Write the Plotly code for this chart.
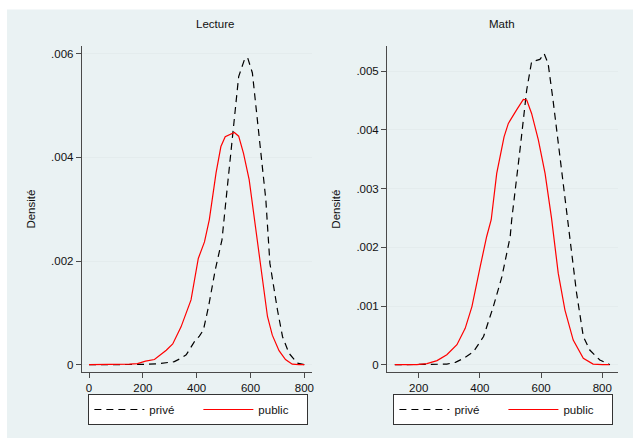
import plotly.graph_objects as go

# ---------------- data ----------------
lect_public_x = [0, 50, 100, 150, 180, 210, 243, 287, 311, 342, 379, 406, 429, 447, 472, 490,
                 506, 540, 556, 574, 595, 614, 638, 663, 681, 706, 730, 755, 780, 800]
lect_public_y = [0, 0, 0.000005, 0.00001, 0.00002, 0.00007, 0.0001, 0.00028, 0.0004, 0.00073,
                 0.00125, 0.00205, 0.00237, 0.0028, 0.0037, 0.00421, 0.0044, 0.00448, 0.00441,
                 0.00408, 0.00357, 0.0028, 0.00183, 0.00093, 0.00057, 0.00027, 0.0001, 0.00001, 0, 0]

lect_prive_x = [0, 100, 200, 262, 290, 317, 340, 361, 391, 410, 425, 444, 469, 494, 509, 533,
                556, 577, 589, 607, 632, 657, 672, 700, 719, 743, 774, 800]
lect_prive_y = [0, 0, 0.000005, 0.00002, 0.00004, 0.00006, 0.00012, 0.00019, 0.00044, 0.00055,
                0.00067, 0.00112, 0.00183, 0.00241, 0.00318, 0.00447, 0.00556, 0.00588, 0.00593,
                0.00563, 0.00447, 0.00318, 0.00196, 0.00106, 0.00054, 0.00022, 0.00003, 0]

math_public_x = [122, 160, 194, 227, 260, 292, 325, 352, 374, 401, 422, 437, 455, 479, 493, 520,
                 542, 553, 569, 591, 613, 634, 656, 678, 705, 738, 770, 800, 823]
math_public_y = [0, 0, 0, 0.00002, 0.00007, 0.00017, 0.00034, 0.00062, 0.00099, 0.00167, 0.00218,
                 0.00247, 0.00326, 0.00388, 0.00411, 0.00434, 0.00452, 0.00451, 0.00428, 0.00383,
                 0.00326, 0.00250, 0.00156, 0.00093, 0.00042, 0.00011, 0.00001, 0, 0]

math_prive_x = [122, 170, 217, 260, 292, 320, 347, 379, 412, 444, 472, 499, 504, 531, 553, 569,
                596, 610, 623, 639, 661, 683, 694, 716, 738, 759, 792, 825]
math_prive_y = [0, 0, 0, 0.000005, 0.00001, 0.00004, 0.00011, 0.00022, 0.00048, 0.00099, 0.0015,
                0.00218, 0.00247, 0.00366, 0.00468, 0.00516, 0.0052, 0.0053, 0.00513, 0.00451,
                0.00354, 0.00258, 0.00212, 0.00122, 0.00048, 0.00025, 0.00008, 0]

lect_xticks = [0, 200, 400, 600, 800]
lect_yticks = [0, 0.002, 0.004, 0.006]
lect_yticklabels = ["0", ".002", ".004", ".006"]
math_xticks = [200, 400, 600, 800]
math_yticks = [0, 0.001, 0.002, 0.003, 0.004, 0.005]
math_yticklabels = ["0", ".001", ".002", ".003", ".004", ".005"]

panel_titles = ["Lecture", "Math"]
ytitle = "Densité"
series_names = ["privé", "public"]

# ---------------- styling ----------------
W, H = 635, 438
BG = "#eaf2f3"
FONT = "Liberation Sans, Arial, Helvetica, sans-serif"
FS = 11.5
TXT = "#111"
AXC = "#4a4a4a"
GRID = "#e4eced"
DASH = "7px,5px"

fig = go.Figure()

fig.add_trace(go.Scatter(x=lect_prive_x, y=lect_prive_y, mode="lines", name=series_names[0],
                         line=dict(color="black", width=1.2, dash=DASH),
                         xaxis="x", yaxis="y", legend="legend"))
fig.add_trace(go.Scatter(x=lect_public_x, y=lect_public_y, mode="lines", name=series_names[1],
                         line=dict(color="#ff0000", width=1.2),
                         xaxis="x", yaxis="y", legend="legend"))
fig.add_trace(go.Scatter(x=math_prive_x, y=math_prive_y, mode="lines", name=series_names[0],
                         line=dict(color="black", width=1.2, dash=DASH),
                         xaxis="x2", yaxis="y2", legend="legend2"))
fig.add_trace(go.Scatter(x=math_public_x, y=math_public_y, mode="lines", name=series_names[1],
                         line=dict(color="#ff0000", width=1.2),
                         xaxis="x2", yaxis="y2", legend="legend2"))


def px_x(p):
    return p / W


def px_y(p):
    return (H - p) / H


axis_common = dict(showline=True, linecolor=AXC, linewidth=1, ticks="outside", ticklen=5,
                   tickcolor=AXC, tickwidth=1, zeroline=False,
                   tickfont=dict(family=FONT, size=FS, color=TXT))

legend_common = dict(orientation="h", xanchor="center", y=px_y(394), yanchor="top",
                     bgcolor="white", bordercolor="#333", borderwidth=1,
                     font=dict(family=FONT, size=FS, color=TXT),
                     itemwidth=50, entrywidth=44, entrywidthmode="pixels")

fig.update_layout(
    width=W, height=H,
    margin=dict(l=0, r=0, t=0, b=0),
    paper_bgcolor="white",
    plot_bgcolor="white",
    font=dict(family=FONT, size=FS, color=TXT),
    xaxis=dict(domain=[px_x(82), px_x(313)], range=[-27, 828.5], tickvals=lect_xticks,
               showgrid=False, anchor="y", **axis_common),
    yaxis=dict(domain=[px_y(372), px_y(46)], range=[-0.000141, 0.00615], tickvals=lect_yticks,
               ticktext=lect_yticklabels, showgrid=True, gridcolor=GRID, gridwidth=1,
               anchor="x", **axis_common),
    xaxis2=dict(domain=[px_x(388.3), px_x(620)], range=[96.7, 851.5], tickvals=math_xticks,
                showgrid=False, anchor="y2", **axis_common),
    yaxis2=dict(domain=[px_y(372), px_y(46)], range=[-0.000124, 0.005429], tickvals=math_yticks,
                ticktext=math_yticklabels, showgrid=True, gridcolor=GRID, gridwidth=1,
                anchor="x2", **axis_common),
    legend=dict(x=px_x(199), **legend_common),
    legend2=dict(x=px_x(505), **legend_common),
    shapes=[dict(type="rect", xref="paper", yref="paper", x0=px_x(7), x1=1.0, y0=0, y1=px_y(9.5),
                 fillcolor=BG, line=dict(width=0), layer="below")],
    annotations=[
        dict(text=panel_titles[0], x=px_x(216), y=px_y(24), xref="paper", yref="paper",
             showarrow=False, xanchor="center", yanchor="middle", font=dict(size=FS, color=TXT)),
        dict(text=panel_titles[1], x=px_x(503.5), y=px_y(24), xref="paper", yref="paper",
             showarrow=False, xanchor="center", yanchor="middle", font=dict(size=FS, color=TXT)),
        dict(text=ytitle, x=px_x(30.7), y=px_y(209), xref="paper", yref="paper", textangle=-90,
             showarrow=False, xanchor="center", yanchor="middle", font=dict(size=FS, color=TXT)),
        dict(text=ytitle, x=px_x(336.7), y=px_y(209), xref="paper", yref="paper", textangle=-90,
             showarrow=False, xanchor="center", yanchor="middle", font=dict(size=FS, color=TXT)),
    ],
)

fig.write_html("out.html", config={"displayModeBar": False},
               post_script="document.body.style.margin='0';document.body.style.padding='0';")
